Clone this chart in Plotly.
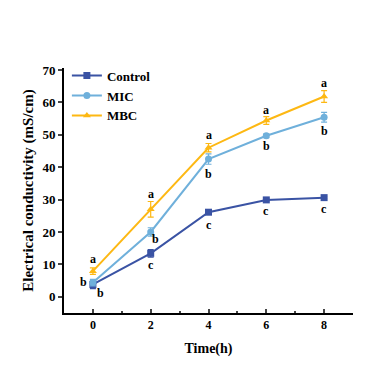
import plotly.graph_objects as go

time_h = [0, 2, 4, 6, 8]
control = [3.8, 13.4, 26.1, 29.9, 30.6]
control_err = [1.3, 1.2, 0.5, 0.4, 0.3]
mic = [4.4, 20.0, 42.5, 49.7, 55.4]
mic_err = [1.0, 1.3, 1.6, 0.6, 1.5]
mbc = [7.9, 27.0, 46.0, 54.4, 61.8]
mbc_err = [1.0, 2.4, 1.3, 1.2, 1.8]

control_letters = ["b", "c", "c", "c", "c"]
mic_letters = ["b", "b", "b", "b", "b"]
mbc_letters = ["a", "a", "a", "a", "a"]

series = [
    ("Control", control, control_err, "#3a53a4", "square", control_letters),
    ("MIC", mic, mic_err, "#6fb0db", "circle", mic_letters),
    ("MBC", mbc, mbc_err, "#fdb813", "triangle-up", mbc_letters),
]

FONT = "Liberation Serif"

fig = go.Figure()
for name, vals, err, color, sym, _ in series:
    fig.add_trace(go.Scatter(
        x=time_h, y=vals, name=name, mode="lines+markers",
        line=dict(color=color, width=2),
        marker=dict(symbol=sym, size=7, color=color),
        error_y=dict(type="data", array=err, visible=True, color=color, thickness=1.2, width=3),
    ))

# letter offsets (pixels) per series per time point
offsets = {
    "Control": [(8, -9), (0, -12), (0, -13), (0, -11), (0, -11)],
    "MIC": [(-9, 1), (5, -7), (0, -15), (0, -10), (0, -14)],
    "MBC": [(0, 12), (0, 15), (0, 13), (0, 11), (0, 14)],
}
annotations = []
for name, vals, err, color, sym, letters in series:
    for i, (t, v, L) in enumerate(zip(time_h, vals, letters)):
        dx, dy = offsets[name][i]
        annotations.append(dict(
            x=t, y=v, text=L, showarrow=False, xshift=dx, yshift=dy,
            font=dict(family=FONT, size=12, color="black", weight="bold"),
        ))

fig.update_layout(
    width=392, height=366,
    margin=dict(l=56, r=47, t=60, b=61),
    paper_bgcolor="white", plot_bgcolor="white",
    font=dict(family=FONT, color="black", size=12, weight="bold"),
    annotations=annotations,
    showlegend=True,
    legend=dict(
        x=0.01, y=1.03, xanchor="left", yanchor="top",
        font=dict(family=FONT, size=13, color="black", weight="bold"),
        bgcolor="rgba(0,0,0,0)", tracegroupgap=0, itemwidth=30,
    ),
    xaxis=dict(
        range=[-1, 9], tickvals=[0, 2, 4, 6, 8], ticks="inside", ticklen=4,
        tickwidth=1.5, showline=True, linewidth=2, linecolor="black",
        showgrid=False, zeroline=False,
        minor=dict(tickvals=[1, 3, 5, 7], ticks="inside", ticklen=2, tickwidth=1.5),
        tickfont=dict(family=FONT, size=12, weight="bold"),
        title=dict(text="Time(h)", font=dict(family=FONT, size=14, weight="bold"), standoff=12),
    ),
    yaxis=dict(
        range=[-5, 70.6], tickvals=[0, 10, 20, 30, 40, 50, 60, 70], ticks="outside",
        ticklen=4, tickwidth=1.5, showline=True, linewidth=2, linecolor="black",
        showgrid=False, zeroline=False,
        tickfont=dict(family=FONT, size=13, weight="bold"),
        title=dict(text="Electrical conductivity (mS/cm)", font=dict(family=FONT, size=15, weight="bold"), standoff=5),
    ),
)

fig.write_html("out.html")
